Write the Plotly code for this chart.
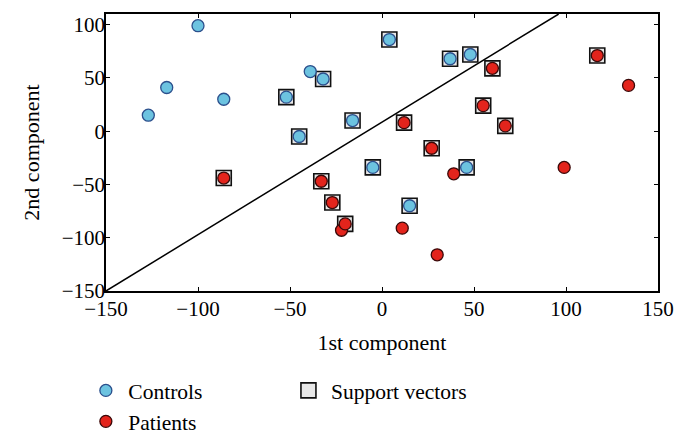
import plotly.graph_objects as go

# Controls (blue)
ctrl_x = [-127, -117, -100, -86, -39, -52, -32, -45, -16, 4, 37, 48, -5, 46, 15]
ctrl_y = [15, 41, 99, 30, 56, 32, 49, -5, 10, 86, 68, 72, -34, -34, -70]
# Patients (red)
pat_x = [134, 99, 39, 11, 30, -22, 60, 55, 67, 12, 27, 117, -86, -33, -27, -20]
pat_y = [43, -34, -40, -91, -116, -93, 59, 24, 5, 8, -16, 71, -44, -47, -67, -87]
# Support vectors
sv_x = [-52, -32, -45, -16, 4, 37, 48, -5, 46, 15, 60, 55, 67, 12, 27, 117, -86, -33, -27, -20]
sv_y = [32, 49, -5, 10, 86, 68, 72, -34, -34, -70, 59, 24, 5, 8, -16, 71, -44, -47, -67, -87]
# Separating line
line_x = [-150, 96]
line_y = [-150, 110]

tick_vals = [-150, -100, -50, 0, 50, 100, 150]
ytick_vals = [-150, -100, -50, 0, 50, 100]

FONT = "Liberation Serif"
FS = 21
FT = 22
FL = 21.5

fig = go.Figure()
fig.add_trace(go.Scatter(x=line_x, y=line_y, mode="lines",
                         line=dict(color="black", width=1.5),
                         showlegend=False, hoverinfo="skip"))
fig.add_trace(go.Scatter(x=sv_x, y=sv_y, mode="markers", name="Support vectors",
                         marker=dict(symbol="square", size=15, color="#e8e8e8",
                                     line=dict(color="#111111", width=1.6)),
                         legend="legend2"))
fig.add_trace(go.Scatter(x=ctrl_x, y=ctrl_y, mode="markers", name="Controls",
                         marker=dict(symbol="circle", size=12, color="#6cc3e0",
                                     line=dict(color="#2b4f8c", width=1.3))))
fig.add_trace(go.Scatter(x=pat_x, y=pat_y, mode="markers", name="Patients",
                         marker=dict(symbol="circle", size=12, color="#e3241c",
                                     line=dict(color="#3a0808", width=1.3))))

axis_common = dict(showgrid=False, zeroline=False, showline=True, linecolor="black",
                   linewidth=1.5, mirror="ticks", ticks="inside", ticklen=4,
                   tickwidth=1.3, tickcolor="black", automargin=False,
                   tickfont=dict(family=FONT, size=FS, color="black"))

fig.update_xaxes(range=[-150, 150], tickvals=tick_vals,
                 ticktext=[str(v).replace("-", "\u2212") for v in tick_vals],
                 ticklabelstandoff=-2,
                 title=dict(text="1st component", font=dict(family=FONT, size=FT, color="black"),
                            standoff=15),
                 **axis_common)
fig.update_yaxes(range=[-150, 110], tickvals=ytick_vals,
                 ticktext=[str(v).replace("-", "\u2212") for v in ytick_vals],
                 ticklabelstandoff=-5,
                 title=dict(text="2nd component", font=dict(family=FONT, size=FT, color="black"),
                            standoff=16),
                 **axis_common)

fig.update_layout(
    width=684, height=442,
    margin=dict(l=106, r=26, t=14, b=151, autoexpand=False),
    plot_bgcolor="white", paper_bgcolor="white",
    font=dict(family=FONT, size=FT, color="black"),
    legend=dict(x=-0.041, y=-0.285, xanchor="left", yanchor="top",
                orientation="v", bgcolor="rgba(0,0,0,0)",
                font=dict(family=FONT, size=FL, color="black"),
                itemwidth=35),
    legend2=dict(x=0.326, y=-0.285, xanchor="left", yanchor="top",
                 orientation="v", bgcolor="rgba(0,0,0,0)",
                 font=dict(family=FONT, size=FL, color="black"),
                 itemwidth=35),
)

fig.write_html("out.html", config={"displayModeBar": False},
               post_script="document.body.style.margin='0';document.body.style.overflow='hidden';")
